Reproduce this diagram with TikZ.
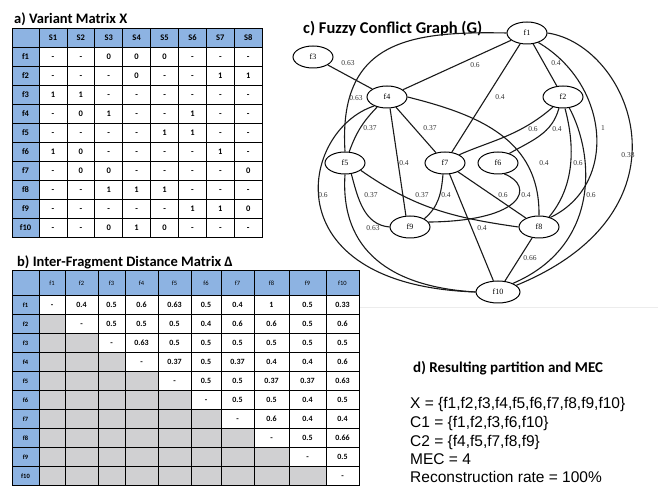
\documentclass[tikz,border=0pt]{standalone}
\usepackage{fontspec}
\setmainfont{Carlito}
\newfontfamily\graphfont{Liberation Serif}
\newfontfamily\plainfont{Liberation Sans}
\usetikzlibrary{shapes.geometric}
\definecolor{hdrblue}{HTML}{8DB3E2}
\definecolor{cellgrey}{HTML}{D0D0D2}

\begin{document}
\begin{tikzpicture}[
  x=1pt, y=1pt,
  title/.style={anchor=base west, inner sep=0pt, font=\fontsize{14.5}{16}\selectfont\bfseries},
  cell/.style={draw, line width=0.8pt, minimum height=19pt, inner sep=0pt, text height=0.63em, text depth=0pt, font=\fontsize{8.5}{9}\selectfont\bfseries},
  hcell/.style={cell, fill=hdrblue},
  gcell/.style={cell, fill=cellgrey},
  frag/.style={ellipse, draw, line width=1pt, minimum width=40pt, minimum height=22pt, inner sep=0pt, font=\graphfont\fontsize{8}{9}\selectfont},
  wt/.style={inner sep=0pt, text=black!80, font=\graphfont\fontsize{7.5}{8}\selectfont},
  link/.style={line width=1.1pt, black!90},
  result/.style={anchor=base west, inner sep=0pt, font=\plainfont\fontsize{15.5}{18}\selectfont}
]
\useasboundingbox (0,0) rectangle (658,486);

% a) variant matrix
\node[title] (ta) at (14,462.5) {a) Variant Matrix X};
\node[hcell, minimum width=27pt] (a-0-0) at (25.5,448.5) {};
\foreach \c in {1,...,8}
  \node[hcell, minimum width=27.9pt] (a-0-\c) at ({39+27.9*(\c-0.5)},448.5) {S\c};
\foreach \row [count=\r] in {{-,-,0,0,0,-,-,-},{-,-,-,0,-,-,1,1},{1,1,-,-,-,-,-,-},
    {-,0,1,-,-,1,-,-},{-,-,-,-,1,1,-,-},{1,0,-,-,-,-,1,-},{-,0,0,-,-,-,-,0},
    {-,-,1,1,1,-,-,-},{-,-,-,-,-,1,1,0},{-,-,0,1,0,-,-,-}}{
  \node[hcell, minimum width=27pt] (a-\r-0) at (25.5,{439-19*(\r-0.5)}) {f\r};
  \foreach \v [count=\c] in \row
    \node[cell, minimum width=27.9pt] (a-\r-\c) at ({39+27.9*(\c-0.5)},{439-19*(\r-0.5)}) {\v};
}

% b) distance matrix
\node[title] (tb) at (17,219.5) {b) Inter-Fragment Distance Matrix Δ};
\def\colx{{39,65,98,125,158,191,221,254,289,326,359}}
\node[hcell, minimum width=27pt, minimum height=25pt] (b-0-0) at (25.5,203.5) {};
\foreach \c in {1,...,10}{
  \pgfmathsetmacro\xl{\colx[\c-1]}
  \pgfmathsetmacro\xr{\colx[\c]}
  \pgfmathsetmacro\w{\xr-\xl}
  \node[hcell, minimum width=\w pt, minimum height=25pt, font=\fontsize{6.5}{7}\selectfont]
    (b-0-\c) at ({(\xl+\xr)/2},203.5) {f\c};
}
\foreach \r in {1,...,10}
  \node[hcell, minimum width=27pt, font=\fontsize{6.5}{7}\selectfont\bfseries] (b-\r-0) at (25.5,{191-19*(\r-0.5)}) {f\r};
\foreach \r in {2,...,10}{
  \pgfmathtruncatemacro\m{\r-1}
  \foreach \c in {1,...,\m}{
    \pgfmathsetmacro\xl{\colx[\c-1]}
    \pgfmathsetmacro\xr{\colx[\c]}
    \pgfmathsetmacro\w{\xr-\xl}
    \node[gcell, minimum width=\w pt] (b-\r-\c) at ({(\xl+\xr)/2},{191-19*(\r-0.5)}) {};
  }
}
\foreach \vals [count=\r] in {{-,0.4,0.5,0.6,0.63,0.5,0.4,1,0.5,0.33},{-,0.5,0.5,0.5,0.4,0.6,0.6,0.5,0.6},
    {-,0.63,0.5,0.5,0.5,0.5,0.5,0.5},{-,0.37,0.5,0.37,0.4,0.4,0.6},{-,0.5,0.5,0.37,0.37,0.63},
    {-,0.5,0.5,0.4,0.5},{-,0.6,0.4,0.4},{-,0.5,0.66},{-,0.5},{-}}{
  \foreach \v [count=\k] in \vals {
    \pgfmathtruncatemacro\c{\r+\k-1}
    \pgfmathsetmacro\xl{\colx[\c-1]}
    \pgfmathsetmacro\xr{\colx[\c]}
    \pgfmathsetmacro\w{\xr-\xl}
    \node[cell, minimum width=\w pt, font=\fontsize{8}{8}\selectfont\bfseries] (b-\r-\c) at ({(\xl+\xr)/2},{191-19*(\r-0.5)}) {\v};
  }
}

% c) fuzzy conflict graph
\draw[gray!15, line width=1pt] (360,178) -- (658,178);
\node[title, font=\fontsize{16.5}{18}\selectfont\bfseries] (tc) at (303,452.5) {c) Fuzzy Conflict Graph (G)};
\node[frag] (f1) at (527,453) {f1};
\node[frag] (f3) at (313,429) {f3};
\node[frag] (f4) at (387,389) {f4};
\node[frag] (f2) at (563,389) {f2};
\node[frag] (f5) at (345,323) {f5};
\node[frag] (f7) at (445,323) {f7};
\node[frag] (f6) at (498,323) {f6};
\node[frag] (f9) at (410,259) {f9};
\node[frag] (f8) at (539,259) {f8};
\node[frag, minimum width=44pt] (f10) at (498,194) {f10};

\draw[link] (f1) -- (f4);
\draw[link] (f1.west) .. controls +(-97,2) and +(-7,111) .. (f5.north);
\draw[link] (f3) -- (f4);
\draw[link] (f1) -- (f7);
\draw[link] (f1) -- (f2);
\draw[link] (f1.-40) .. controls (610,401) and (618,301) .. (f8.40);
\draw[link] (f1.east) .. controls (630,441) and (700,276) .. (f10.20);
\draw[link] (f4) to[bend right=12] (f5);
\draw[link] (f4) -- (f7);
\draw[link] (f4.-75) -- (f9.110);
\draw[link] (f4.east) .. controls (480,371) and (540,346) .. (f8.north);
\draw[link] (f4.215) .. controls (300,356) and (270,201) .. (f10.west);
\draw[link] (f5.south) .. controls (340,236) and (390,199) .. (f10.west);
\draw[link] (f5.-60) to[out=-75,in=175] (f9.west);
\draw[link] (f5.-25) to[out=-35,in=172] (f8.west);
\draw[link] (f7.-100) to[out=-95,in=40] (f9.30);
\draw[link] (f7) -- (f10);
\draw[link] (f7) -- (f8);
\draw[link] (f6.-60) .. controls (535,300) and (525,265) .. (f9.15);
\draw[link] (f2.225) .. controls (520,350) and (490,345) .. (f7.30);
\draw[link] (f2.-110) to[out=-105,in=30] (f6.40);
\draw[link] (f2.-80) .. controls (575,340) and (575,300) .. (f8.45);
\draw[link] (f2.-60) .. controls (595,330) and (600,240) .. (f10.30);
\draw[link] (f8) -- (f10);

\node[wt] (l34) at (348,423) {0.63};
\node[wt] (l14) at (475,421) {0.6};
\node[wt] (l12) at (556,423) {0.4};
\node[wt] (l15) at (356,388) {0.63};
\node[wt] (l17) at (500,389) {0.4};
\node[wt] (l45) at (370,358) {0.37};
\node[wt] (l47) at (430,358) {0.37};
\node[wt] (l27) at (533,357) {0.6};
\node[wt] (l26) at (557,357) {0.4};
\node[wt] (l18) at (603,358) {1};
\node[wt] (l110) at (628,331) {0.33};
\node[wt] (l49) at (404,323) {0.4};
\node[wt] (l48) at (544,323) {0.4};
\node[wt] (l28) at (578,323) {0.6};
\node[wt] (l410) at (323,291) {0.6};
\node[wt] (l59) at (371,291) {0.37};
\node[wt] (l58) at (422,291) {0.37};
\node[wt] (l79) at (446,291) {0.4};
\node[wt] (l78) at (503,291) {0.6};
\node[wt] (l69) at (526,291) {0.4};
\node[wt] (l210) at (591,291) {0.6};
\node[wt] (l510) at (373,258) {0.63};
\node[wt] (l710) at (482,258) {0.4};
\node[wt] (l810) at (530,228) {0.66};

% d) result
\node[title, font=\fontsize{15}{16}\selectfont\bfseries] (td) at (413,113) {d) Resulting partition and MEC};
\node[result] (r1) at (410,77) {X = \{f1,f2,f3,f4,f5,f6,f7,f8,f9,f10\}};
\node[result] (r2) at (410,58) {C1 = \{f1,f2,f3,f6,f10\}};
\node[result] (r3) at (410,39) {C2 = \{f4,f5,f7,f8,f9\}};
\node[result] (r4) at (410,21) {MEC = 4};
\node[result] (r5) at (410,3) {Reconstruction rate = 100\%};
\end{tikzpicture}
\end{document}
